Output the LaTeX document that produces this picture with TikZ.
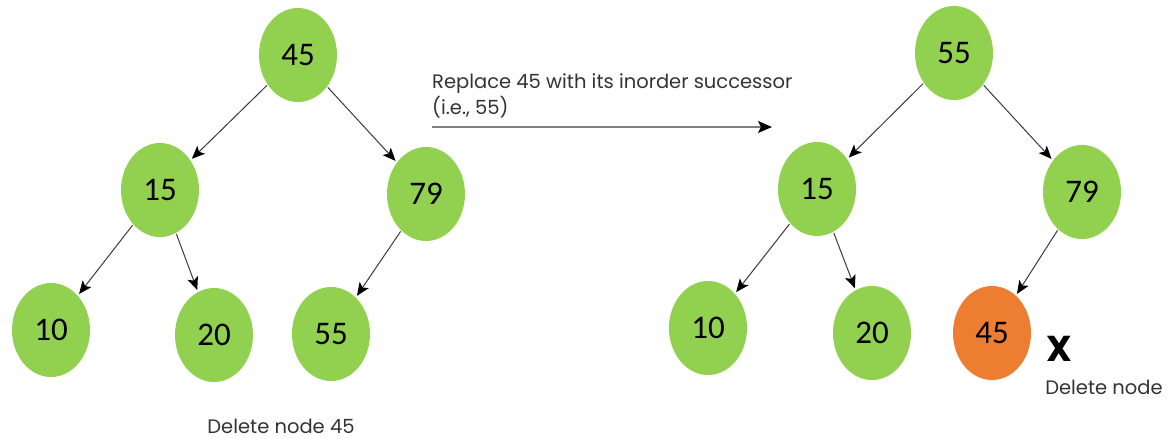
\documentclass[tikz,border=0pt]{standalone}
\usepackage{fontspec}
\setmainfont{Poppins}
\newfontfamily\numfont{Carlito}
\usetikzlibrary{shapes.geometric,arrows.meta}

\definecolor{leafgreen}{HTML}{92D050}
\definecolor{delorange}{HTML}{ED7D31}
\definecolor{edgegray}{HTML}{3A3A3A}

\tikzset{
    bstnode/.style={ellipse, fill=leafgreen, minimum width=78pt, minimum height=94pt, inner sep=0pt, font=\numfont\fontsize{33}{33}\selectfont},
    delnode/.style={bstnode, fill=delorange},
    edge/.style={-{Stealth[length=13pt,width=11pt,inset=3pt,black]}, draw=edgegray, line width=1pt, shorten <=1pt, shorten >=2pt},
    caption/.style={font=\fontsize{19.5}{26}\selectfont, text=black!80, inner sep=0pt}
}

\begin{document}
\begin{tikzpicture}[x=1pt, y=-1pt]
        \useasboundingbox (0,0) rectangle (1173,439);
        % before
        \node[bstnode] (a) at (298,55) {45};
        \node[bstnode] (b) at (160,190) {15};
        \node[bstnode] (c) at (426,194) {79};
        \node[bstnode] (d) at (51,330) {10};
        \node[bstnode] (e) at (214,335) {20};
        \node[bstnode] (f) at (331,334) {55};
        \draw[edge] (a) -- (b);
        \draw[edge] (a) -- (c);
        \draw[edge] (b) -- (d);
        \draw[edge] (b) -- (e);
        \draw[edge] (c) -- (f);
        \node[caption] (cap1) at (281,426) {Delete node 45};

        % replace step
        \coordinate (s) at (432,127);
        \coordinate (t) at (772,127);
        \draw[-{Stealth[length=14pt,width=12pt,inset=3pt,black]}, draw=gray, line width=2pt] (s) -- (t);
        \node[caption, anchor=south west, align=left] (rep) at (432,118) {Replace 45 with its inorder successor\\(i.e., 55)};

        % after
        \node[bstnode] (g) at (954,53) {55};
        \node[bstnode] (h) at (817,189) {15};
        \node[bstnode] (i) at (1082,192) {79};
        \node[bstnode] (j) at (708,328) {10};
        \node[bstnode] (k) at (872,333) {20};
        \node[delnode] (l) at (992,333) {45};
        \draw[edge] (g) -- (h);
        \draw[edge] (g) -- (i);
        \draw[edge] (h) -- (j);
        \draw[edge] (h) -- (k);
        \draw[edge] (i) -- (l);
        \node[font=\fontsize{36}{36}\selectfont\bfseries, inner sep=0pt] (x) at (1059,349) {X};
        \node[caption] (cap2) at (1104,387) {Delete node};
    \end{tikzpicture}
\end{document}
